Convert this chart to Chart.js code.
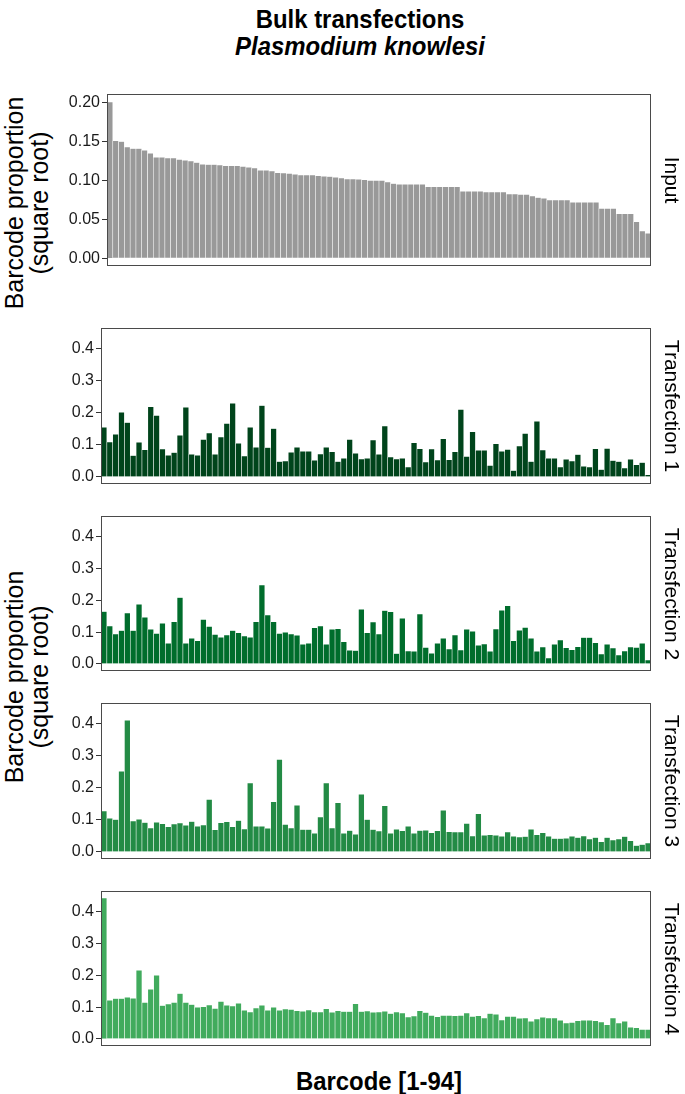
<!DOCTYPE html>
<html>
<head>
<meta charset="utf-8">
<title>Bulk transfections</title>
<script src="https://cdn.jsdelivr.net/npm/chart.js@4.4.1/dist/chart.umd.min.js"></script>
<style>
  html, body { margin: 0; padding: 0; background: #fff; }
  body { position: relative; width: 685px; height: 1094px; overflow: hidden;
         font-family: 'Liberation Sans', Arial, Helvetica, sans-serif; color: #000; }
  .box { position: absolute; left: 0; }
  .rot { position: absolute; white-space: nowrap; text-align: center; line-height: 25px; }
  .head { position: absolute; white-space: nowrap; transform: translate(-50%, -50%) scaleX(0.92);
          font-family: 'Liberation Sans', Arial, sans-serif;
          font-weight: bold; font-size: 26px; line-height: 1; }
</style>
</head>
<body>

<div class="head" style="left:360px; top:19px;">Bulk transfections</div>
<div class="head" style="left:360px; top:46px; font-style:italic;">Plasmodium knowlesi</div>
<div class="head" style="left:379px; top:1081px;">Barcode [1-94]</div>

<div class="rot" style="left:27px; top:203px; font-size:25px; transform:translate(-50%,-50%) rotate(-90deg);">Barcode proportion<br>(square root)</div>
<div class="rot" style="left:27px; top:677px; font-size:25px; transform:translate(-50%,-50%) rotate(-90deg);">Barcode proportion<br>(square root)</div>

<div id="charts"></div>

<script>
// barcode 1..94 (category labels)
const barcodes = Array.from({ length: 94 }, (_, i) => String(i + 1));

// sqrt barcode proportions
const inputVals = [
  0.201, 0.151, 0.150, 0.143, 0.141, 0.141, 0.139, 0.135, 0.130, 0.130,
  0.129, 0.129, 0.127, 0.126, 0.125, 0.123, 0.121, 0.1205, 0.1205, 0.120,
  0.119, 0.119, 0.119, 0.118, 0.117, 0.116, 0.113, 0.113, 0.112, 0.110,
  0.1095, 0.109, 0.108, 0.107, 0.107, 0.107, 0.106, 0.1055, 0.105, 0.104,
  0.103, 0.102, 0.102, 0.1015, 0.101, 0.100, 0.100, 0.100, 0.098, 0.096,
  0.095, 0.095, 0.095, 0.095, 0.095, 0.092, 0.092, 0.092, 0.092, 0.092,
  0.092, 0.086, 0.086, 0.086, 0.086, 0.085, 0.085, 0.085, 0.085, 0.0825,
  0.0825, 0.082, 0.082, 0.080, 0.078, 0.077, 0.075, 0.075, 0.075, 0.075,
  0.072, 0.072, 0.072, 0.072, 0.072, 0.064, 0.064, 0.064, 0.057, 0.057,
  0.057, 0.047, 0.035, 0.032
];

const trans1Vals = [
  0.155, 0.109, 0.133, 0.202, 0.170, 0.067, 0.108, 0.085, 0.219, 0.192,
  0.087, 0.068, 0.076, 0.130, 0.218, 0.071, 0.068, 0.117, 0.137, 0.071,
  0.125, 0.167, 0.230, 0.105, 0.065, 0.155, 0.093, 0.223, 0.092, 0.151,
  0.048, 0.050, 0.077, 0.093, 0.080, 0.080, 0.052, 0.072, 0.093, 0.079,
  0.048, 0.058, 0.117, 0.074, 0.056, 0.058, 0.115, 0.071, 0.159, 0.062,
  0.056, 0.058, 0.031, 0.107, 0.088, 0.047, 0.087, 0.053, 0.119, 0.054,
  0.079, 0.211, 0.064, 0.141, 0.083, 0.083, 0.036, 0.104, 0.080, 0.086,
  0.020, 0.097, 0.136, 0.048, 0.174, 0.084, 0.058, 0.058, 0.031, 0.055,
  0.050, 0.070, 0.033, 0.031, 0.088, 0.023, 0.089, 0.051, 0.048, 0.028,
  0.055, 0.038, 0.045, 0.007
];

const trans2Vals = [
  0.165, 0.119, 0.094, 0.105, 0.160, 0.105, 0.188, 0.147, 0.109, 0.096,
  0.128, 0.065, 0.133, 0.209, 0.065, 0.081, 0.073, 0.140, 0.118, 0.093,
  0.084, 0.091, 0.105, 0.098, 0.088, 0.084, 0.133, 0.248, 0.154, 0.133,
  0.096, 0.100, 0.094, 0.090, 0.062, 0.065, 0.114, 0.119, 0.062, 0.109,
  0.111, 0.070, 0.043, 0.042, 0.172, 0.098, 0.132, 0.094, 0.168, 0.164,
  0.033, 0.144, 0.041, 0.040, 0.157, 0.052, 0.034, 0.065, 0.081, 0.047,
  0.091, 0.044, 0.109, 0.103, 0.059, 0.063, 0.040, 0.110, 0.169, 0.183,
  0.073, 0.106, 0.115, 0.081, 0.040, 0.053, 0.019, 0.062, 0.075, 0.051,
  0.045, 0.054, 0.083, 0.083, 0.067, 0.031, 0.062, 0.050, 0.028, 0.041,
  0.053, 0.052, 0.065, 0.0125
];

const trans3Vals = [
  0.128, 0.105, 0.101, 0.252, 0.411, 0.097, 0.102, 0.092, 0.075, 0.093,
  0.088, 0.079, 0.087, 0.090, 0.083, 0.095, 0.080, 0.084, 0.164, 0.069,
  0.091, 0.094, 0.079, 0.098, 0.072, 0.215, 0.080, 0.080, 0.074, 0.157,
  0.289, 0.086, 0.075, 0.146, 0.070, 0.070, 0.058, 0.109, 0.215, 0.075,
  0.154, 0.058, 0.067, 0.055, 0.180, 0.101, 0.070, 0.065, 0.144, 0.058,
  0.071, 0.066, 0.080, 0.058, 0.067, 0.068, 0.060, 0.066, 0.130, 0.063,
  0.062, 0.062, 0.089, 0.050, 0.119, 0.052, 0.054, 0.052, 0.049, 0.062,
  0.049, 0.047, 0.048, 0.071, 0.054, 0.060, 0.049, 0.042, 0.042, 0.043,
  0.049, 0.045, 0.050, 0.040, 0.045, 0.032, 0.045, 0.037, 0.040, 0.048,
  0.035, 0.020, 0.023, 0.028
];

const trans4Vals = [
  0.443, 0.122, 0.127, 0.127, 0.131, 0.128, 0.216, 0.115, 0.156, 0.200,
  0.105, 0.110, 0.115, 0.143, 0.115, 0.108, 0.100, 0.101, 0.107, 0.096,
  0.118, 0.106, 0.104, 0.112, 0.090, 0.085, 0.097, 0.106, 0.090, 0.100,
  0.090, 0.094, 0.093, 0.089, 0.087, 0.091, 0.085, 0.085, 0.095, 0.084,
  0.089, 0.086, 0.086, 0.111, 0.086, 0.088, 0.084, 0.085, 0.087, 0.080,
  0.085, 0.082, 0.069, 0.072, 0.089, 0.083, 0.074, 0.070, 0.074, 0.074,
  0.073, 0.074, 0.082, 0.071, 0.073, 0.066, 0.080, 0.078, 0.060, 0.071,
  0.071, 0.065, 0.066, 0.056, 0.063, 0.068, 0.066, 0.066, 0.059, 0.050,
  0.052, 0.057, 0.059, 0.059, 0.057, 0.053, 0.045, 0.066, 0.050, 0.056,
  0.037, 0.035, 0.030, 0.030
];

// axis ticks
const inputTickVals = [0, 0.05, 0.10, 0.15, 0.20];
const inputTickLabels = ['0.00', '0.05', '0.10', '0.15', '0.20'];
const inputMinorVals = [0.025, 0.075, 0.125, 0.175];
const transTickVals = [0, 0.1, 0.2, 0.3, 0.4];
const transTickLabels = ['0.0', '0.1', '0.2', '0.3', '0.4'];
const transMinorVals = [0.05, 0.15, 0.25, 0.35, 0.45];

const panelNames = ['Input', 'Transfection 1', 'Transfection 2', 'Transfection 3', 'Transfection 4'];
const panelColors = ['#999999', '#00441b', '#006d2c', '#238b45', '#41ab5d'];

/* =========================
   PANEL LAYOUT
========================= */
const panels = [
  { vals: inputVals,  top: 94,  bottom: 266,  left: 107, min: -0.0101, max: 0.2112,
    ticks: inputTickVals, labels: inputTickLabels, minor: inputMinorVals },
  { vals: trans1Vals, top: 328, bottom: 484,  left: 101, min: -0.02215, max: 0.46515,
    ticks: transTickVals, labels: transTickLabels, minor: transMinorVals },
  { vals: trans2Vals, top: 516, bottom: 671,  left: 101, min: -0.02215, max: 0.46515,
    ticks: transTickVals, labels: transTickLabels, minor: transMinorVals },
  { vals: trans3Vals, top: 703, bottom: 859,  left: 101, min: -0.02215, max: 0.46515,
    ticks: transTickVals, labels: transTickLabels, minor: transMinorVals },
  { vals: trans4Vals, top: 891, bottom: 1046, left: 101, min: -0.02215, max: 0.46515,
    ticks: transTickVals, labels: transTickLabels, minor: transMinorVals }
];

const PAD = 12;   // must exceed half a tick label, or chart.js shrinks the area
const RIGHT = 651;
const CANVAS_W = 660;

// panel frame
const framePlugin = {
  id: 'frame',
  afterDatasetsDraw(chart) {
    const a = chart.chartArea;
    const ctx = chart.ctx;
    ctx.save();
    ctx.strokeStyle = '#4a4a4a';
    ctx.lineWidth = 1;
    ctx.strokeRect(Math.round(a.left) + 0.5, Math.round(a.top) + 0.5,
                   Math.round(a.right - a.left) - 1, Math.round(a.bottom - a.top) - 1);
    ctx.restore();
  }
};

function isMajor(p, v) {
  return p.ticks.some(t => Math.abs(t - v) < 1e-6);
}

function makePanel(p, idx) {
  const h = p.bottom - p.top + PAD * 2;
  const box = document.createElement('div');
  box.className = 'box';
  box.style.top = (p.top - PAD) + 'px';
  const canvas = document.createElement('canvas');
  canvas.width = CANVAS_W;
  canvas.height = h;
  box.appendChild(canvas);
  document.getElementById('charts').appendChild(box);

  // strip label on the right
  const strip = document.createElement('div');
  strip.className = 'rot';
  strip.textContent = panelNames[idx];
  strip.style.fontSize = '21px';
  strip.style.left = '672px';
  strip.style.top = ((p.top + p.bottom) / 2) + 'px';
  strip.style.transform = 'translate(-50%,-50%) rotate(90deg)';
  document.body.appendChild(strip);

  const allTicks = p.ticks.concat(p.minor).sort((a, b) => a - b);

  new Chart(canvas.getContext('2d'), {
    type: 'bar',
    data: {
      labels: barcodes,
      datasets: [{
        data: p.vals,
        backgroundColor: panelColors[idx],
        borderColor: 'rgba(255,255,255,0.55)',
        borderWidth: { top: 0.6, left: 0.6, right: 0.6, bottom: 0 },
        borderSkipped: false,
        barPercentage: 1,
        categoryPercentage: 1
      }]
    },
    options: {
      responsive: false,
      animation: false,
      devicePixelRatio: 1,
      layout: { padding: { top: PAD, bottom: PAD, left: 0, right: CANVAS_W - RIGHT } },
      plugins: { legend: { display: false }, tooltip: { enabled: false } },
      scales: {
        x: { display: false },
        y: {
          min: p.min,
          max: p.max,
          afterBuildTicks: axis => { axis.ticks = allTicks.map(v => ({ value: v })); },
          afterFit: axis => { axis.width = p.left; },
          border: { display: false },
          grid: {
            drawTicks: true,
            tickLength: 5,
            lineWidth: 1,
            color: c => (c.tick && isMajor(p, c.tick.value)) ? 'rgba(0,0,0,0)' : '#ebebeb',
            tickColor: c => (c.tick && isMajor(p, c.tick.value)) ? '#333333' : 'rgba(0,0,0,0)'
          },
          ticks: {
            padding: 2,
            color: '#1a1a1a',
            font: { family: "'Liberation Sans', Arial, sans-serif", size: 16 },
            callback: v => {
              const i = p.ticks.findIndex(t => Math.abs(t - v) < 1e-6);
              return i >= 0 ? p.labels[i] : '';
            }
          }
        }
      }
    },
    plugins: [framePlugin]
  });
}

panels.forEach(makePanel);
</script>
</body>
</html>
